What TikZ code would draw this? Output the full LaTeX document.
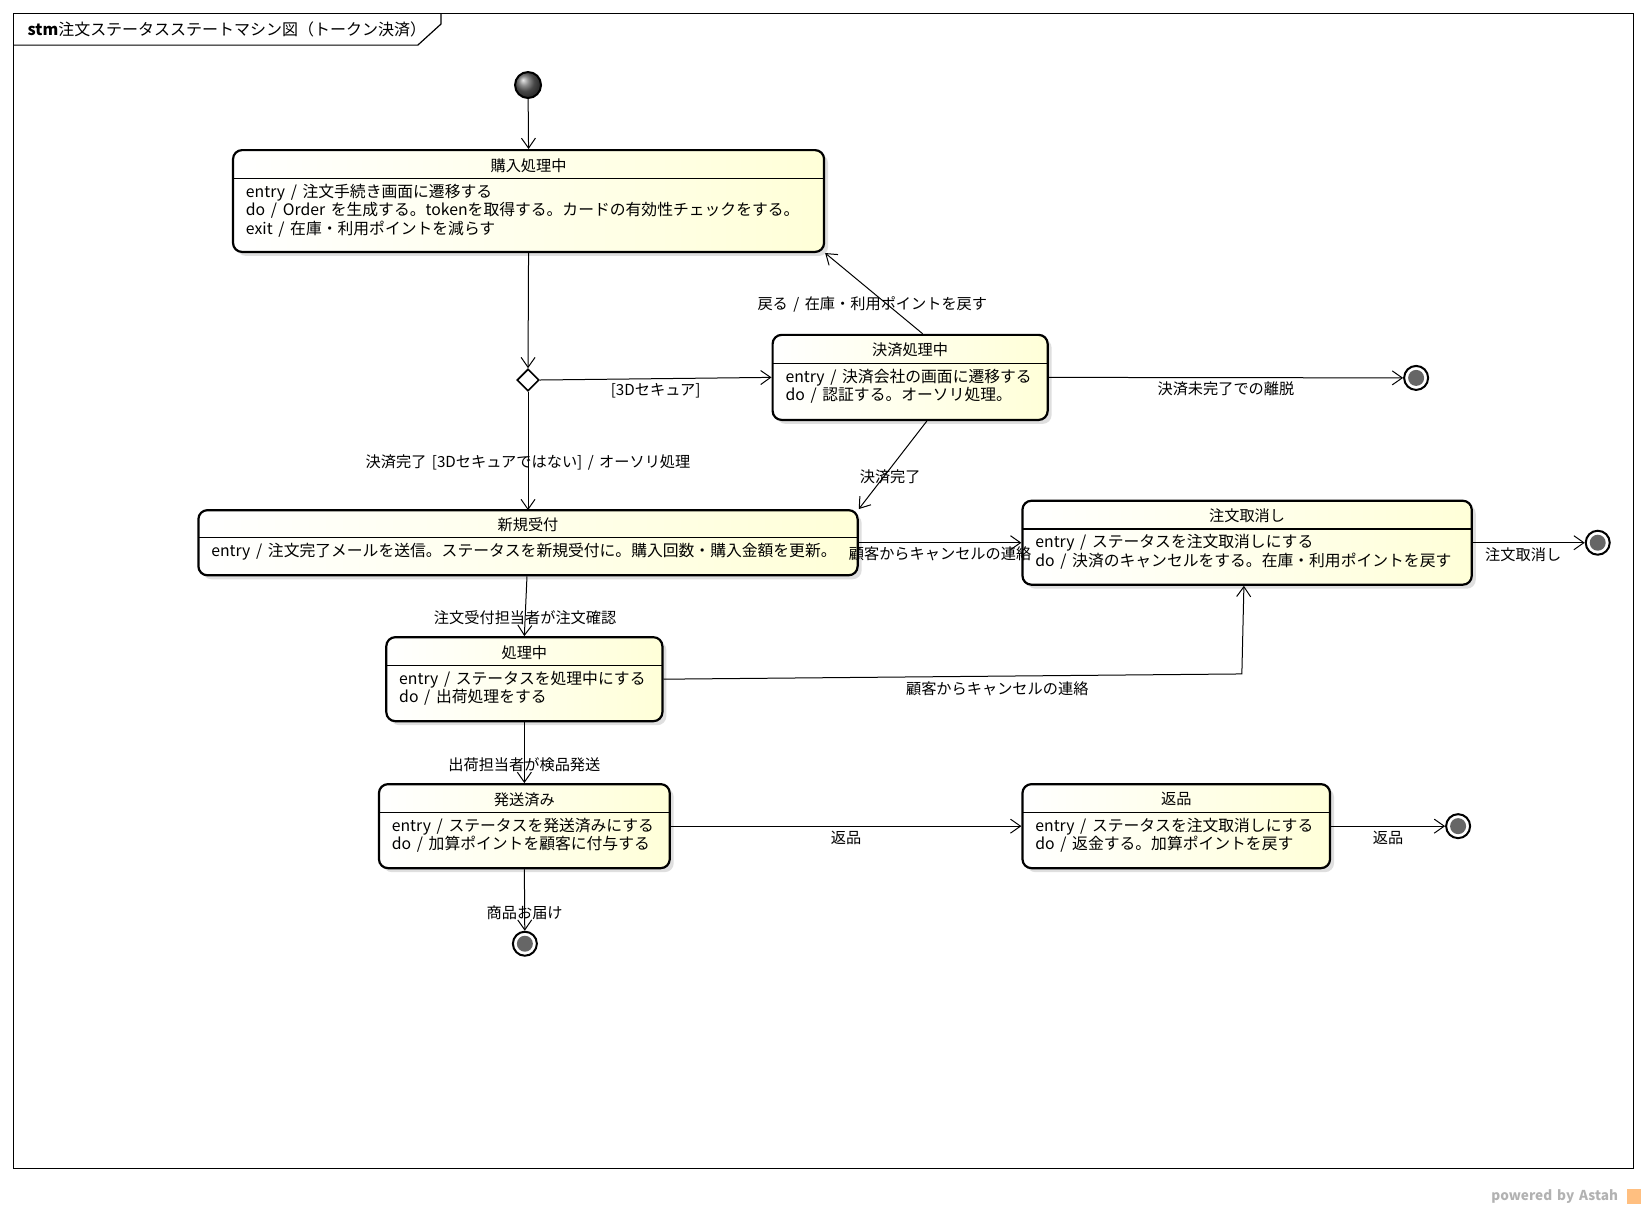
\documentclass[tikz,border=0pt]{standalone}
\usepackage{fontspec}
\setmainfont{Noto Sans CJK JP}[WordSpace=1.6]
\usetikzlibrary{arrows.meta,calc,shapes.geometric,shadows}
\definecolor{stfill}{HTML}{FFFFD8}
\tikzset{
 st/.style={draw,line width=1.1pt,rounded corners=4.5pt,left color=white,right color=stfill,
   drop shadow={shadow xshift=2pt,shadow yshift=-2pt,fill=black!25},inner sep=0pt},
 tr/.style={draw,line width=0.5pt,-{Straight Barb[length=5pt,width=7pt]}},
 lb/.style={font=\fontsize{7.6}{9}\selectfont,inner sep=1pt},
 fin/.style={circle,draw,line width=1pt,minimum size=12pt,inner sep=0pt},
}
\newcommand{\mkstate}[8]{%
 \node[st,minimum width={(#4-#2)*0.525pt},minimum height={(#5-#3)*0.525pt}] (#1) at ({(#2+#4)/2},{(#3+#5)/2}) {};
 \draw[line width=0.6pt] (#2,#6) -- (#4,#6);
 \node[lb] at ({(#2+#4)/2},{(#3+#6)/2+1}) {#7};
 \node[lb,anchor=north west,align=left,font=\fontsize{7.9}{9.3}\selectfont] at (#2+10,#6+3) {#8};
}
\begin{document}
\begin{tikzpicture}[x=0.525pt,y=-0.525pt]
\useasboundingbox (0,0) rectangle (1568,1151.5);
\draw[line width=0.6pt] (13,13) rectangle (1556,1113);
\draw[line width=0.6pt] (13,43) -- (398,43) -- (420,23) -- (420,13);
\node[lb,anchor=west,font=\fontsize{8}{9}\selectfont] at (24,28) {\textbf{stm}注文ステータスステートマシン図（トークン決済）};
\node[anchor=east,text=black!30,font=\fontsize{6.8}{8}\selectfont\bfseries] at (1548,1140) {powered by Astah};
\fill[orange!50] (1550,1133) rectangle (1563,1147);

\mkstate{kounyu}{222}{143}{785}{240}{170}{購入処理中}{entry / 注文手続き画面に遷移する\\do / Order を生成する。tokenを取得する。カードの有効性チェックをする。\\exit / 在庫・利用ポイントを減らす}
\mkstate{kessai}{736}{319}{998}{400}{346}{決済処理中}{entry / 決済会社の画面に遷移する\\do / 認証する。オーソリ処理。}
\mkstate{shinki}{189}{486}{817}{548}{512}{新規受付}{entry / 注文完了メールを送信。ステータスを新規受付に。購入回数・購入金額を更新。}
\mkstate{cancel}{974}{477}{1402}{557}{504}{注文取消し}{entry / ステータスを注文取消しにする\\do / 決済のキャンセルをする。在庫・利用ポイントを戻す}
\mkstate{shori}{368}{607}{631}{687}{634}{処理中}{entry / ステータスを処理中にする\\do / 出荷処理をする}
\mkstate{hasso}{361}{747}{638}{827}{774}{発送済み}{entry / ステータスを発送済みにする\\do / 加算ポイントを顧客に付与する}
\mkstate{henpin}{974}{747}{1267}{827}{774}{返品}{entry / ステータスを注文取消しにする\\do / 返金する。加算ポイントを戻す}

\node[circle,draw,line width=1pt,minimum size=13pt,inner sep=0pt,ball color=black!60] (init) at (503,81) {};
\node[diamond,draw,line width=0.8pt,fill=white,minimum size=11pt,inner sep=0pt] (dec) at (503,362) {};
\node[fin] (f1) at (1349,360) {}; \fill[black!60] (f1) circle (4pt);
\node[fin] (f2) at (1522,517) {}; \fill[black!60] (f2) circle (4pt);
\node[fin] (f3) at (1389,787) {}; \fill[black!60] (f3) circle (4pt);
\node[fin] (f4) at (500,899) {}; \fill[black!60] (f4) circle (4pt);

\path[tr] (init) -- (kounyu.north);
\path[tr] (kounyu.south) -- (dec.north);
\path[tr] (dec.east) -- (kessai.west) node[lb,pos=0.5,below=1pt] {[3Dセキュア]};
\path[tr] (dec.south) -- (503,486) node[lb,pos=0.6] {決済完了 [3Dセキュアではない] / オーソリ処理};
\path[tr] ($(kessai.north west)+(144,0)$) -- (kounyu.south east);
\node[lb] at (831,290) {戻る / 在庫・利用ポイントを戻す};
\path[tr] (kessai.east) -- (f1) node[lb,pos=0.5,below=1pt] {決済未完了での離脱};
\path[tr] ($(kessai.south west)+(148,0)$) -- (shinki.north east);
\node[lb] at (848,454) {決済完了};
\path[tr] (shinki.east) -- (cancel.west) node[lb,pos=0.5,below=1pt] {顧客からキャンセルの連絡};
\path[tr] (cancel.east) -- (f2) node[lb,pos=0.45,below=1pt] {注文取消し};
\path[tr] ($(shinki.south)+(-1,0)$) -- (shori.north) node[lb,pos=0.7] {注文受付担当者が注文確認};
\path[tr] (shori.east) -- (1183,642) -- ($(cancel.south west)+(212,0)$);
\node[lb] at (950,656) {顧客からキャンセルの連絡};
\path[tr] (shori.south) -- (hasso.north) node[lb,pos=0.7] {出荷担当者が検品発送};
\path[tr] (hasso.east) -- (henpin.west) node[lb,pos=0.5,below=1pt] {返品};
\path[tr] (henpin.east) -- (f3) node[lb,pos=0.5,below=1pt] {返品};
\path[tr] (hasso.south) -- (f4) node[lb,pos=0.7] {商品お届け};
\end{tikzpicture}
\end{document}
